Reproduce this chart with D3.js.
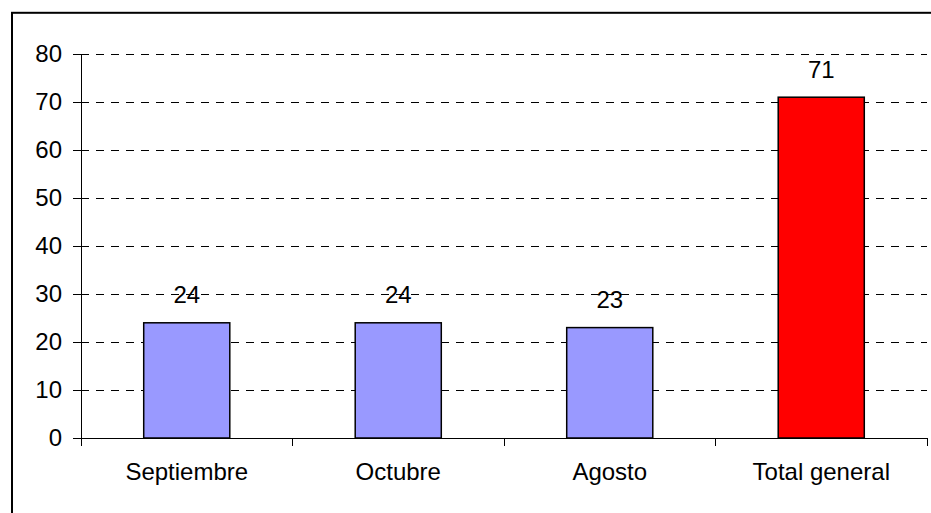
<!DOCTYPE html>
<html>
<head>
<meta charset="utf-8">
<script src="https://cdn.jsdelivr.net/npm/d3@7"></script>
<style>
  body { margin: 0; background: #fff; }
  svg { display: block; font-family: "Liberation Sans", Arial, sans-serif; }
</style>
</head>
<body>
<div id="chart"></div>
<script>
// data
const categories = ["Septiembre", "Octubre", "Agosto", "Total general"];
const values = [24, 24, 23, 71];
const barColors = ["#9999ff", "#9999ff", "#9999ff", "#ff0000"];
const yTicks = [0, 10, 20, 30, 40, 50, 60, 70, 80];

const width = 931;
const height = 513;
const margin = { top: 54, right: 4, bottom: 75, left: 81 };

const svg = d3.select('#chart')
  .append('svg')
  .attr('width', width)
  .attr('height', height);

// outer frame (runs off the right and bottom edge)
svg.append('rect')
  .attr('x', 12)
  .attr('y', 12.8)
  .attr('width', 1000)
  .attr('height', 1000)
  .attr('fill', 'none')
  .attr('stroke', '#000')
  .attr('stroke-width', 2);

const x = d3.scaleBand()
  .domain(categories)
  .range([margin.left, width - margin.right])
  .paddingInner(0.593)
  .paddingOuter(0.2965);

const y = d3.scaleLinear()
  .domain([0, 80])
  .range([height - margin.bottom, margin.top]);

// dashed gridlines
svg.append('g')
  .selectAll('line')
  .data(yTicks.filter(d => d > 0))
  .enter()
  .append('line')
  .attr('x1', margin.left)
  .attr('x2', width - margin.right)
  .attr('y1', d => y(d))
  .attr('y2', d => y(d))
  .attr('stroke', '#000')
  .attr('stroke-width', 1)
  .attr('stroke-dasharray', '8,7')
  .attr('shape-rendering', 'crispEdges');

// bars
svg.append('g')
  .selectAll('rect')
  .data(values)
  .enter()
  .append('rect')
  .attr('x', (d, i) => x(categories[i]))
  .attr('y', d => y(d))
  .attr('width', x.bandwidth())
  .attr('height', d => y(0) - y(d))
  .attr('fill', (d, i) => barColors[i])
  .attr('stroke', '#000')
  .attr('stroke-width', 1.5);

// value labels
svg.append('g')
  .selectAll('text')
  .data(values)
  .enter()
  .append('text')
  .attr('x', (d, i) => x(categories[i]) + x.bandwidth() / 2)
  .attr('y', d => y(d) - 19.5)
  .attr('text-anchor', 'middle')
  .attr('font-size', 24)
  .attr('fill', '#000')
  .text(d => d);

// y axis
const yAxis = svg.append('g')
  .attr('transform', `translate(${margin.left},0)`)
  .call(d3.axisLeft(y).tickValues(yTicks).tickSize(8).tickPadding(11));
yAxis.select('.domain').attr('stroke', '#000').attr('shape-rendering', 'crispEdges');
yAxis.selectAll('.tick line').attr('stroke', '#000').attr('shape-rendering', 'crispEdges');
yAxis.selectAll('.tick text')
  .attr('font-size', 24)
  .attr('font-family', '"Liberation Sans", Arial, sans-serif')
  .attr('fill', '#000');

// x axis line, ticks between the categories
const xg = svg.append('g');
xg.append('line')
  .attr('x1', margin.left)
  .attr('x2', width - margin.right)
  .attr('y1', y(0))
  .attr('y2', y(0))
  .attr('stroke', '#000')
  .attr('shape-rendering', 'crispEdges');

const step = x.step();
const bounds = d3.range(categories.length + 1).map(i => margin.left + i * (width - margin.right - margin.left) / categories.length);
xg.selectAll('line.tk')
  .data(bounds)
  .enter()
  .append('line')
  .attr('class', 'tk')
  .attr('x1', d => d)
  .attr('x2', d => d)
  .attr('y1', y(0))
  .attr('y2', y(0) + 8)
  .attr('stroke', '#000')
  .attr('shape-rendering', 'crispEdges');

xg.selectAll('text')
  .data(categories)
  .enter()
  .append('text')
  .attr('x', d => x(d) + x.bandwidth() / 2)
  .attr('y', 480)
  .attr('text-anchor', 'middle')
  .attr('font-size', 24)
  .attr('fill', '#000')
  .text(d => d);
</script>
</body>
</html>
